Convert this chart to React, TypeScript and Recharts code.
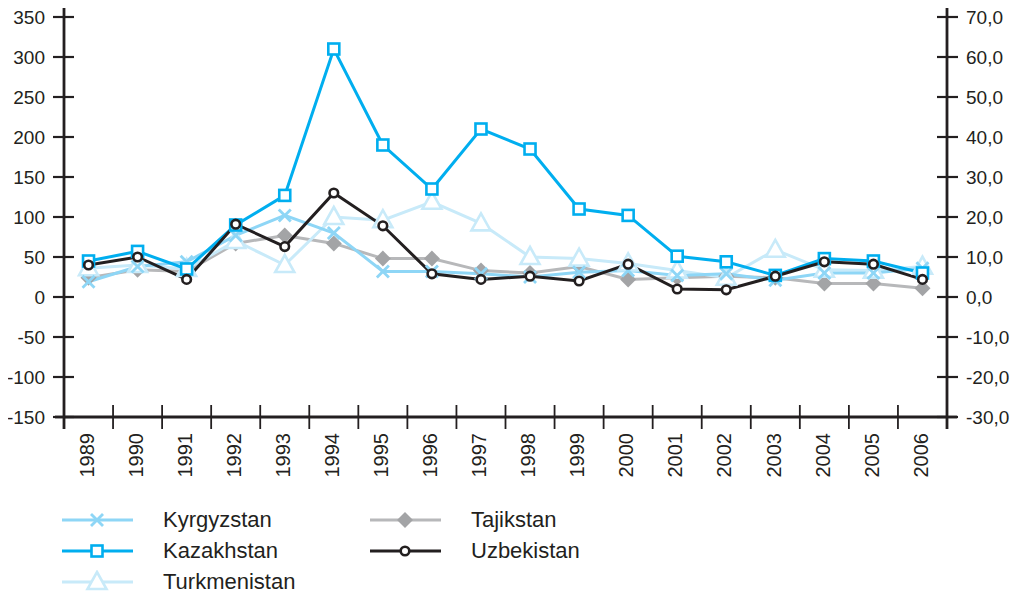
import React from "react";
import { LineChart, Line, XAxis, YAxis } from "recharts";

const years = ["1989","1990","1991","1992","1993","1994","1995","1996","1997","1998","1999","2000","2001","2002","2003","2004","2005","2006"];
const kyrgyzstan = [19, 38, 44, 77, 102, 80, 32, 32, 29, 25, 31, 33, 27, 29, 21, 30, 30, 36];
const kazakhstan = [45, 57, 35, 90, 127, 310, 190, 135, 210, 185, 110, 102, 51, 44, 27, 48, 45, 30];
const turkmenistan = [36, 40, 35, 70, 40, 100, 96, 119, 92, 50, 48, 42, 33, 24, 59, 34, 33, 38];
const tajikstan = [24, 34, 32, 67, 77, 67, 48, 48, 33, 30, 38, 22, 24, 26, 24, 17, 17, 11];
const uzbekistan = [40, 50, 22, 91, 63, 130, 89, 29, 22, 26, 20, 41, 10, 9, 26, 44, 41, 22];
const leftTicks = [-150, -100, -50, 0, 50, 100, 150, 200, 250, 300, 350];
const rightTicks = [-30, -20, -10, 0, 10, 20, 30, 40, 50, 60, 70];

const data = years.map((y, i) => ({
  year: y,
  kyrgyzstan: kyrgyzstan[i],
  kazakhstan: kazakhstan[i],
  turkmenistan: turkmenistan[i],
  tajikstan: tajikstan[i],
  uzbekistan: uzbekistan[i],
}));

const C_KYR = "#8ED6F6";
const C_KAZ = "#00AEEF";
const C_TUR = "#C8EAF9";
const C_TAJ = "#B7B8BA";
const C_TAJ_M = "#A3A4A6";
const C_UZB = "#231F20";
const AX = "#231F20";
const FONT = "Liberation Sans, Arial, sans-serif";

const W = 1011;
const H = 586;
const LEFT_W = 64;
const RIGHT_W = 64;
const PLOT_W = W - LEFT_W - RIGHT_W;
const BAND = PLOT_W / years.length;

const CrossDot = (p: any) => {
  const { cx, cy } = p;
  if (cx == null || cy == null) return null;
  const s = 6;
  return (
    <g>
      <line x1={cx - s} y1={cy - s} x2={cx + s} y2={cy + s} stroke={C_KYR} strokeWidth={2.8} />
      <line x1={cx - s} y1={cy + s} x2={cx + s} y2={cy - s} stroke={C_KYR} strokeWidth={2.8} />
    </g>
  );
};
const SquareDot = (p: any) => {
  const { cx, cy } = p;
  if (cx == null || cy == null) return null;
  return <rect x={cx - 5.5} y={cy - 5.5} width={11} height={11} fill="#fff" stroke={C_KAZ} strokeWidth={2.6} />;
};
const TriDot = (p: any) => {
  const { cx, cy } = p;
  if (cx == null || cy == null) return null;
  return (
    <polygon
      points={`${cx},${cy - 10} ${cx + 9.5},${cy + 7} ${cx - 9.5},${cy + 7}`}
      fill="#fff"
      stroke={C_TUR}
      strokeWidth={2.6}
    />
  );
};
const DiamondDot = (p: any) => {
  const { cx, cy } = p;
  if (cx == null || cy == null) return null;
  return <polygon points={`${cx},${cy - 8} ${cx + 8},${cy} ${cx},${cy + 8} ${cx - 8},${cy}`} fill={C_TAJ_M} />;
};
const CircleDot = (p: any) => {
  const { cx, cy } = p;
  if (cx == null || cy == null) return null;
  return <circle cx={cx} cy={cy} r={4.3} fill="#fff" stroke={C_UZB} strokeWidth={2.6} />;
};

const txtStyle = { fontSize: "19px", fontFamily: FONT, fill: "#231F20" } as any;

const renderLeftTick = (p: any) => {
  const { x, y, payload, index } = p;
  const last = index === leftTicks.length - 1;
  const first = index === 0;
  return (
    <g key={`l${index}`}>
      <line x1={x - 11} y1={y} x2={x + 10} y2={y} stroke={AX} strokeWidth={2.2} />
      {last && <line x1={x} y1={y} x2={x} y2={y - 9} stroke={AX} strokeWidth={2.8} />}
      {first && <line x1={x} y1={y} x2={x} y2={y + 12} stroke={AX} strokeWidth={2.8} />}
      {first && <line x1={x} y1={y} x2={x - 9} y2={y} stroke={AX} strokeWidth={2.8} />}
      <text x={x - 19} y={y} dy="0.36em" textAnchor="end" style={txtStyle}>
        {payload.value}
      </text>
    </g>
  );
};
const renderRightTick = (p: any) => {
  const { x, y, payload, index } = p;
  const last = index === rightTicks.length - 1;
  const first = index === 0;
  return (
    <g key={`r${index}`}>
      <line x1={x - 10} y1={y} x2={x + 11} y2={y} stroke={AX} strokeWidth={2.2} />
      {last && <line x1={x} y1={y} x2={x} y2={y - 9} stroke={AX} strokeWidth={2.8} />}
      {first && <line x1={x} y1={y} x2={x} y2={y + 12} stroke={AX} strokeWidth={2.8} />}
      {first && <line x1={x} y1={y} x2={x + 10} y2={y} stroke={AX} strokeWidth={2.8} />}
      <text x={x + 19} y={y} dy="0.36em" textAnchor="start" style={txtStyle}>
        {Number(payload.value).toFixed(1).replace(".", ",")}
      </text>
    </g>
  );
};
const renderBottomTick = (p: any) => {
  const { x, y, payload, index } = p;
  const sep = index < years.length - 1;
  return (
    <g key={`b${index}`}>
      {sep && <line x1={x + BAND / 2} y1={y - 12} x2={x + BAND / 2} y2={y + 12} stroke={AX} strokeWidth={1.8} />}
      <text
        x={0}
        y={0}
        transform={`translate(${x - 2},${y + 16}) rotate(-90)`}
        dy="0.36em"
        textAnchor="end"
        style={{ ...txtStyle, fontSize: "20px" }}
      >
        {payload.value}
      </text>
    </g>
  );
};

const legendItems = [
  { name: "Kyrgyzstan", color: C_KYR, kind: "cross", col: 0, row: 0 },
  { name: "Kazakhstan", color: C_KAZ, kind: "square", col: 0, row: 1 },
  { name: "Turkmenistan", color: C_TUR, kind: "tri", col: 0, row: 2 },
  { name: "Tajikstan", color: C_TAJ, kind: "diamond", col: 1, row: 0 },
  { name: "Uzbekistan", color: C_UZB, kind: "circle", col: 1, row: 1 },
];

const LegendMarker = ({ kind }: { kind: string }) => {
  const cx = 35, cy = 12;
  switch (kind) {
    case "cross": return <CrossDot cx={cx} cy={cy} />;
    case "square": return <SquareDot cx={cx} cy={cy} />;
    case "tri": return <TriDot cx={cx} cy={cy} />;
    case "diamond": return <DiamondDot cx={cx} cy={cy} />;
    default: return <CircleDot cx={cx} cy={cy} />;
  }
};

export default function App() {
  return (
    <div style={{ position: "relative", width: W, height: H, marginLeft: -8, marginTop: -8, paddingTop: 8, fontFamily: FONT }}>
      <LineChart width={W} height={H - 8} data={data} margin={{ top: 9, right: 0, bottom: 109, left: 0 }}>
        <XAxis
          dataKey="year"
          xAxisId="x"
          scale="band"
          axisLine={{ stroke: AX, strokeWidth: 2.8 }}
          tickLine={false}
          tickSize={0}
          tickMargin={0}
          height={60}
          interval={0}
          tick={renderBottomTick}
        />
        <YAxis
          yAxisId="left"
          orientation="left"
          width={LEFT_W}
          domain={[-150, 350]}
          ticks={leftTicks}
          interval={0}
          axisLine={{ stroke: AX, strokeWidth: 2.8 }}
          tickLine={false}
          tickSize={0}
          tickMargin={0}
          tick={renderLeftTick}
        />
        <YAxis
          yAxisId="right"
          orientation="right"
          width={RIGHT_W}
          domain={[-30, 70]}
          allowDataOverflow
          ticks={rightTicks}
          interval={0}
          axisLine={{ stroke: AX, strokeWidth: 2.8 }}
          tickLine={false}
          tickSize={0}
          tickMargin={0}
          tick={renderRightTick}
        />
        <Line xAxisId="x" yAxisId="right" dataKey="tajikstan" stroke="none" dot={false} activeDot={false} legendType="none" isAnimationActive={false} />
        <Line xAxisId="x" yAxisId="left" dataKey="tajikstan" stroke={C_TAJ} strokeWidth={3} dot={<DiamondDot />} isAnimationActive={false} />
        <Line xAxisId="x" yAxisId="left" dataKey="turkmenistan" stroke={C_TUR} strokeWidth={3} dot={<TriDot />} isAnimationActive={false} />
        <Line xAxisId="x" yAxisId="left" dataKey="kyrgyzstan" stroke={C_KYR} strokeWidth={3} dot={<CrossDot />} isAnimationActive={false} />
        <Line xAxisId="x" yAxisId="left" dataKey="kazakhstan" stroke={C_KAZ} strokeWidth={3} dot={<SquareDot />} isAnimationActive={false} />
        <Line xAxisId="x" yAxisId="left" dataKey="uzbekistan" stroke={C_UZB} strokeWidth={3} dot={<CircleDot />} isAnimationActive={false} />
      </LineChart>
      {legendItems.map((it) => (
        <div
          key={it.name}
          style={{
            position: "absolute",
            left: it.col === 0 ? 62 : 370,
            top: 508 + it.row * 31,
            height: 24,
            display: "flex",
            alignItems: "center",
          }}
        >
          <svg width={72} height={24} style={{ display: "block" }}>
            <line x1={0} y1={12} x2={71} y2={12} stroke={it.color} strokeWidth={3} />
            <LegendMarker kind={it.kind} />
          </svg>
          <span style={{ marginLeft: 29, fontSize: 22, color: "#231F20", lineHeight: "24px", whiteSpace: "nowrap" }}>
            {it.name}
          </span>
        </div>
      ))}
    </div>
  );
}
